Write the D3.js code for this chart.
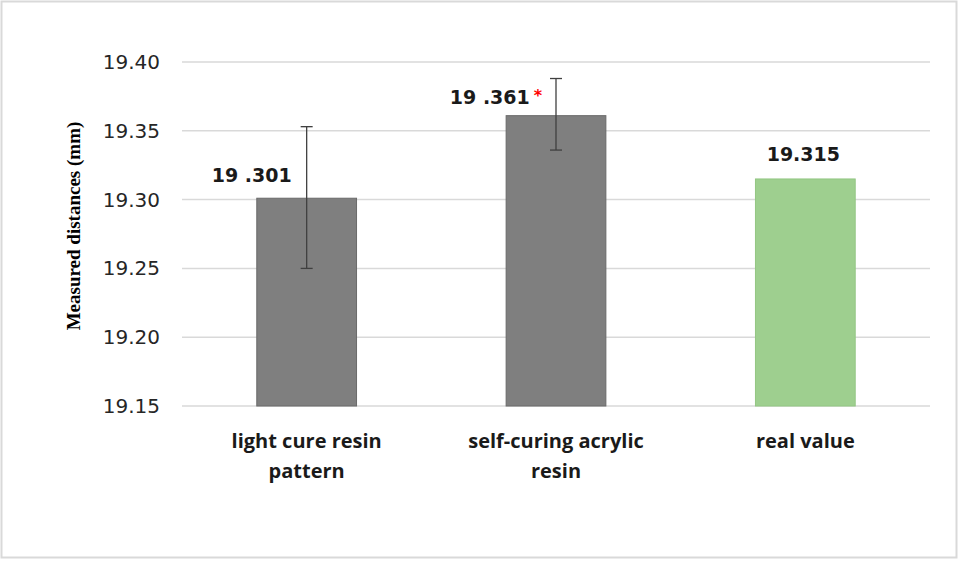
<!DOCTYPE html>
<html><head><meta charset="utf-8">
<script src="https://cdn.jsdelivr.net/npm/d3@7"></script>
<style>body{margin:0;background:#fff;}svg{display:block;}</style>
</head><body>
<svg id="chart" width="960" height="561"></svg>
<script>
const categories = [["light cure resin","pattern"],["self-curing acrylic","resin"],["real value"]];
const values = [19.301, 19.361, 19.315];
const labels = ["19 .301", "19 .361", "19.315"];
const errUpper = [19.353, 19.388, null];
const errLower = [19.250, 19.336, null];
const stars = ["", "*", ""];
const yTicks = [19.15, 19.20, 19.25, 19.30, 19.35, 19.40];
const colors = ["#7f7f7f", "#7f7f7f", "#9ecf8f"];
const strokes = ["#6a6a6a", "#6a6a6a", "#93c683"];

(function(){
const svg = d3.select("#chart");
svg.append("rect").attr("x",1.5).attr("y",1.5).attr("width",955).attr("height",556)
  .attr("fill","#fff").attr("stroke","#d9d9d9").attr("stroke-width",2);

const pl = 182, pr = 930, pt = 62, pb = 406;
const x = d3.scaleBand().domain(d3.range(categories.length)).range([pl, pr]).paddingInner(0.6).paddingOuter(0.3);
const y = d3.scaleLinear().domain([19.15, 19.40]).range([pb, pt]);

svg.append("g").selectAll("line").data(yTicks).join("line")
  .attr("x1", pl).attr("x2", pr)
  .attr("y1", d => y(d)).attr("y2", d => y(d))
  .attr("stroke", "#d9d9d9").attr("stroke-width", 1.5);

const yAxis = d3.axisLeft(y).tickValues(yTicks).tickFormat(d3.format(".2f")).tickSize(0).tickPadding(22);
const ya = svg.append("g").attr("transform", `translate(${pl},0)`).call(yAxis);
ya.select(".domain").remove();
ya.selectAll("text").attr("font-family","'DejaVu Sans', Verdana, sans-serif").attr("font-size",20).attr("fill","#262626");

svg.append("g").selectAll("rect").data(values).join("rect")
  .attr("x", (d,i) => x(i)).attr("width", x.bandwidth())
  .attr("y", d => y(d)).attr("height", d => y(19.15) - y(d))
  .attr("fill", (d,i) => colors[i]).attr("stroke", (d,i) => strokes[i]).attr("stroke-width", 1);

const eg = svg.append("g").attr("stroke","#404040").attr("stroke-width",1.3);
values.forEach((v,i) => {
  if (errUpper[i] == null) return;
  const cx = x(i) + x.bandwidth()/2;
  eg.append("line").attr("x1",cx).attr("x2",cx).attr("y1",y(errUpper[i])).attr("y2",y(errLower[i]));
  [errUpper[i], errLower[i]].forEach(e => {
    eg.append("line").attr("x1",cx-6).attr("x2",cx+6).attr("y1",y(e)).attr("y2",y(e));
  });
});

const offsets = [-55, -60, -2];
const lift = [16, 12, 18];
values.forEach((v,i) => {
  const cx = x(i) + x.bandwidth()/2;
  const t = svg.append("text").attr("x", cx + offsets[i]).attr("y", y(v) - lift[i])
    .attr("text-anchor","middle").attr("font-family","'DejaVu Sans', Verdana, sans-serif")
    .attr("font-weight","bold").attr("font-size",19).attr("fill","#1a1a1a");
  t.append("tspan").text(labels[i]);
  if (stars[i]) t.append("tspan").attr("fill","#ff0000").attr("dx",4).attr("dy",-3).attr("font-size",16).text(stars[i]);
});

categories.forEach((lines,i) => {
  const cx = x(i) + x.bandwidth()/2;
  lines.forEach((ln,j) => {
    svg.append("text").attr("x", cx).attr("y", 448 + j*30).attr("text-anchor","middle")
      .attr("font-family","'Open Sans', Lato, sans-serif").attr("font-weight","bold")
      .attr("font-size",20).attr("fill","#1a1a1a").text(ln);
  });
});

svg.append("text").attr("transform","translate(80,226) rotate(-90)").attr("text-anchor","middle")
  .attr("font-family","'Liberation Serif', 'Times New Roman', serif").attr("font-weight","bold")
  .attr("font-size",19).attr("fill","#000").text("Measured distances (mm)");
})();
</script>
</body></html>
